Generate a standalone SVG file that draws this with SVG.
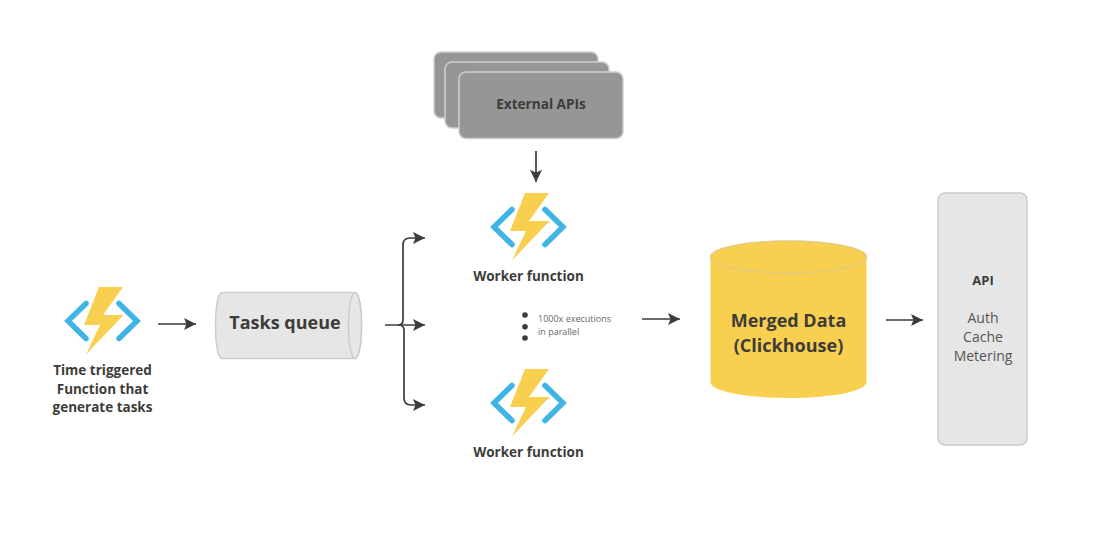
<svg xmlns="http://www.w3.org/2000/svg" width="1106" height="545" viewBox="0 0 1106 545">
<style>
text{font-family:"Open Sans","Noto Sans","Liberation Sans",sans-serif;fill:#3d3c38;text-anchor:middle}
.b{font-weight:700}
.lbl{font-size:13.5px}
.big{font-size:18px}
.conn{fill:none;stroke:#3d3c38;stroke-width:1.7}
.arr{marker-end:url(#ah)}
.chev{fill:none;stroke:#3fb5e6;stroke-width:5.5;stroke-linecap:round}
.stack{fill:#969696;stroke:#cfcfcf;stroke-width:1.5}
.grey{fill:#e6e6e6;stroke:#cccccc;stroke-width:1.5}
.r{font-size:14px;fill:#555555}
</style>
<defs>
<marker id="ah" markerUnits="userSpaceOnUse" markerWidth="13" markerHeight="14" refX="12" refY="7" orient="auto"><path d="M0 1L12 7L0 13L2.500 7Z" fill="#3d3c38"/></marker>
<g id="fn">
<path class="chev" d="M21-17.500L3 0L21 17.500"/>
<path class="chev" d="M54-17.500L72 0L54 17.500"/>
<path d="M34-34H58L38-6H58.500L21 33.500L35 4H19Z" fill="#f8cf4f"/>
</g>
</defs>
<g id="connectors">
<path class="conn arr" d="M158 324H196"/>
<path class="conn arr" d="M385 325H425"/>
<path class="conn arr" d="M398 325Q403 325 403 320V245Q403 238 410 238H425"/>
<path class="conn arr" d="M398 325Q404 325 404 330V398Q404 405 411 405H425"/>
<path class="conn arr" d="M536 151V182"/>
<path class="conn arr" d="M642 319H680"/>
<path class="conn arr" d="M886 320H923"/>
</g>
<g id="timer">
<use href="#fn" x="65" y="321"/>
<text class="b lbl"><tspan x="102.500" y="375">Time triggered</tspan><tspan x="102.500" y="393.500">Function that</tspan><tspan x="102.500" y="412">generate tasks</tspan></text>
</g>
<g id="queue">
<path class="grey" d="M222 292.500H355C359.500 292.500 361.500 310 361.500 325.500C361.500 341 359.500 358.500 355 358.500H222C217.500 358.500 215.500 341 215.500 325.500C215.500 310 217.500 292.500 222 292.500Z"/>
<ellipse class="grey" cx="355" cy="325.500" rx="6.500" ry="33"/>
<text class="b big" x="285" y="329">Tasks queue</text>
</g>
<g id="external">
<rect class="stack" x="434" y="52" width="164" height="66" rx="7"/>
<rect class="stack" x="445" y="62" width="164" height="66" rx="7"/>
<rect class="stack" x="459" y="72" width="164" height="66.500" rx="7"/>
<text class="b" font-size="13.600" x="541" y="108.700">External APIs</text>
</g>
<g id="worker1">
<use href="#fn" x="491" y="227"/>
<text class="b lbl" x="528.500" y="280.500">Worker function</text>
</g>
<g id="parallel">
<circle cx="525" cy="315" r="2.800" fill="#3d3c38"/>
<circle cx="525" cy="326.700" r="2.800" fill="#3d3c38"/>
<circle cx="525" cy="338" r="2.800" fill="#3d3c38"/>
<text font-size="9" style="text-anchor:start;fill:#666"><tspan x="538" y="322">1000x executions</tspan><tspan x="538" y="335">in parallel</tspan></text>
</g>
<g id="worker2">
<use href="#fn" x="491" y="403"/>
<text class="b lbl" x="528.500" y="456.500">Worker function</text>
</g>
<g id="merged">
<path d="M710.500 257V382C710.500 391 745 398 788.500 398C832 398 866.500 391 866.500 382V257Z" fill="#f8cf4f"/>
<ellipse cx="788.500" cy="257" rx="78" ry="16" fill="#f8cf4f" stroke="#e3ca7d" stroke-width="1.500"/>
<text class="b big"><tspan x="788.500" y="327">Merged Data</tspan><tspan x="788.500" y="352">(Clickhouse)</tspan></text>
</g>
<g id="api">
<rect class="grey" x="938" y="193" width="89" height="252" rx="7"/>
<text class="b" font-size="13" x="983" y="285">API</text>
<text class="r"><tspan x="983" y="323">Auth</tspan><tspan x="983" y="342">Cache</tspan><tspan x="983" y="361">Metering</tspan></text>
</g>
</svg>
